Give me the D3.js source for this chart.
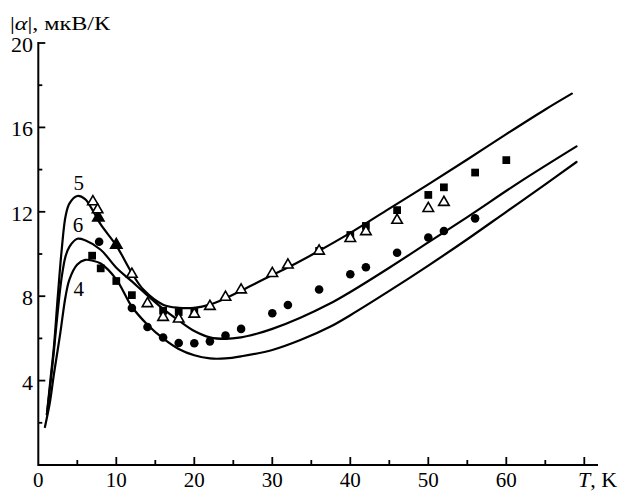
<!DOCTYPE html>
<meta charset="utf-8">
<script src="https://cdnjs.cloudflare.com/ajax/libs/d3/7.8.5/d3.min.js"></script>
<style>
  body { margin: 0; background: #fff; }
  text { font-family: "Liberation Serif", "DejaVu Serif", serif; fill: #000; }
</style>
<div id="chart"></div>
<script>

  // theory curves (T, |alpha|)
  const curve5 = [[1.1, 2.4], [1.6, 4.2], [2, 5.6], [2.5, 8.0], [3, 10.2], [3.5, 11.8], [4, 12.4], [5, 12.75],
    [6, 12.6], [7, 12.05], [8, 11.4], [10, 10.4], [12, 9.1], [13.5, 8.3], [16, 7.6], [18, 7.45], [20, 7.45],
    [22, 7.6], [24, 7.9], [27, 8.45], [30, 9.0], [33, 9.55], [36, 10.15], [40, 11.0], [45, 12.15], [50, 13.3],
    [55, 14.48], [60, 15.68], [65, 16.85], [68.4, 17.6]]
  const curve6 = [[1.1, 2.4], [1.6, 4.0], [2, 5.4], [2.5, 7.3], [3, 8.9], [3.5, 9.9], [4, 10.35], [5, 10.72],
    [6, 10.65], [8, 10.2], [10, 9.35], [12, 8.7], [13.5, 8.2], [16, 7.4], [18, 6.85], [20, 6.35], [22, 6.05],
    [24, 5.98], [26, 6.05], [28, 6.22], [30, 6.45], [33.6, 6.98], [37.4, 7.65], [40, 8.2], [45, 9.35],
    [50, 10.55], [55, 11.75], [61.8, 13.43], [69, 15.1]]
  const curve4 = [[0.85, 1.8], [1.5, 3.0], [2, 4.3], [2.8, 6.2], [3.5, 8.0], [4, 8.8], [5, 9.5], [6, 9.72],
    [7, 9.68], [8, 9.55], [10, 8.8], [12, 7.5], [14, 6.65], [16, 6.0], [18, 5.5], [20, 5.2], [22, 5.05],
    [24, 5.05], [26, 5.15], [30, 5.45], [33.6, 5.92], [37.4, 6.55], [40, 7.1], [45, 8.25], [50, 9.45],
    [55, 10.7], [60, 12.0], [65, 13.3], [69, 14.36]]

  // experimental points
  const openTriangles = [[7, 12.48], [7.6, 12.1], [12, 9.04], [14, 7.65], [16, 7.0], [18, 6.92], [20, 7.15],
    [22, 7.52], [24, 7.95], [26, 8.3], [30, 9.08], [32, 9.48], [36, 10.14], [40, 10.74], [42, 11.06],
    [46, 11.6], [50, 12.16], [52, 12.45]]
  const filledTriangles = [[7.7, 11.72], [10, 10.43]]
  const filledSquares = [[6.9, 9.92], [8, 9.32], [10, 8.72], [12, 8.05], [16, 7.31], [18, 7.25], [20, 7.3],
    [36, 10.15], [40, 10.9], [42, 11.33], [46, 12.08], [50, 12.8], [52, 13.16], [56, 13.86], [60, 14.45]]
  const filledCircles = [[7.8, 10.58], [12, 7.44], [14, 6.54], [16, 6.04], [18, 5.78], [20, 5.77], [22, 5.86],
    [24, 6.13], [26, 6.45], [30, 7.19], [32, 7.58], [36, 8.32], [40, 9.04], [42, 9.37], [46, 10.06],
    [50, 10.78], [52, 11.09], [56, 11.69]]

  const curveLabels = [['5', 5.2, 183], ['6', 5.1, 225], ['4', 5.2, 289]]
  const xTicks = [0, 10, 20, 30, 40, 50, 60]
  const yTicks = [4, 8, 12, 16, 20]

  const width = 623
  const height = 491

  const svg = d3.select('#chart').
    append('svg').
    attr('width', width).
    attr('height', height)

  const x = d3.scaleLinear().domain([0, 70]).range([38.3, 584.3])
  const y = d3.scaleLinear().domain([0, 20]).range([465, 43])

  // axes
  svg.append('line').attr('x1', x(0)).attr('x2', 598).attr('y1', y(0)).attr('y2', y(0)).
    attr('stroke', '#000').attr('stroke-width', 2)
  svg.append('line').attr('x1', x(0)).attr('x2', x(0)).attr('y1', y(0) + 1).attr('y2', y(20) - 1).
    attr('stroke', '#000').attr('stroke-width', 2)

  // x ticks (inside)
  d3.range(5, 71, 5).forEach(function (t) {
    const major = t % 10 === 0
    svg.append('line').attr('x1', x(t)).attr('x2', x(t)).
      attr('y1', y(0)).attr('y2', y(0) - (major ? 8 : 5)).
      attr('stroke', '#000').attr('stroke-width', 1.8)
  })
  // y ticks (inside)
  d3.range(2, 21, 2).forEach(function (v) {
    const major = v % 4 === 0
    svg.append('line').attr('x1', x(0)).attr('x2', x(0) + (major ? 7 : 4)).
      attr('y1', y(v)).attr('y2', y(v)).
      attr('stroke', '#000').attr('stroke-width', 1.8)
  })

  svg.selectAll('.xl').data(xTicks).enter().append('text').
    attr('x', function (d) { return x(d) }).
    attr('y', 487).
    attr('text-anchor', 'middle').
    style('font-size', '21px').
    text(function (d) { return d })

  svg.selectAll('.yl').data(yTicks).enter().append('text').
    attr('x', 33).
    attr('y', function (d) { return y(d) + 9 }).
    attr('text-anchor', 'end').
    style('font-size', '22px').
    text(function (d) { return d })

  // axis titles
  const yt = svg.append('text').attr('x', 10).attr('y', 30).style('font-size', '19px').
    attr('textLength', 100).attr('lengthAdjust', 'spacingAndGlyphs')
  yt.append('tspan').text('|')
  yt.append('tspan').style('font-style', 'italic').text('α')
  yt.append('tspan').text('|, мкВ/К')

  const xt = svg.append('text').attr('x', 578).attr('y', 487).style('font-size', '22px')
  xt.append('tspan').style('font-style', 'italic').text('T')
  xt.append('tspan').text(', K')

  // theory curves
  const line = d3.line().
    x(function (d) { return x(d[0]) }).
    y(function (d) { return y(d[1]) }).
    curve(d3.curveCatmullRom.alpha(0.5))

  ;[curve5, curve6, curve4].forEach(function (c) {
    svg.append('path').datum(c).
      attr('fill', 'none').
      attr('stroke', '#000').
      attr('stroke-width', 2.2).
      attr('stroke-linecap', 'round').
      attr('d', line)
  })

  svg.selectAll('.cl').data(curveLabels).enter().append('text').
    attr('x', function (d) { return x(d[1]) }).
    attr('y', function (d) { return d[2] + 7 }).
    attr('text-anchor', 'middle').
    style('font-size', '21px').
    text(function (d) { return d[0] })

  // markers
  function drawPoints(data, type, size, fill, stroke) {
    svg.append('g').selectAll('path').data(data).enter().append('path').
      attr('transform', function (d) { return 'translate(' + x(d[0]) + ',' + y(d[1]) + ')' }).
      attr('d', d3.symbol().type(type).size(size)).
      attr('fill', fill).
      attr('stroke', stroke).
      attr('stroke-width', 1.6)
  }

  drawPoints(filledCircles, d3.symbolCircle, 58, '#000', 'none')
  drawPoints(filledSquares, d3.symbolSquare, 60, '#000', 'none')
  drawPoints(filledTriangles, d3.symbolTriangle, 55, '#000', '#000')
  drawPoints(openTriangles, d3.symbolTriangle, 48, '#fff', '#000')

</script>
